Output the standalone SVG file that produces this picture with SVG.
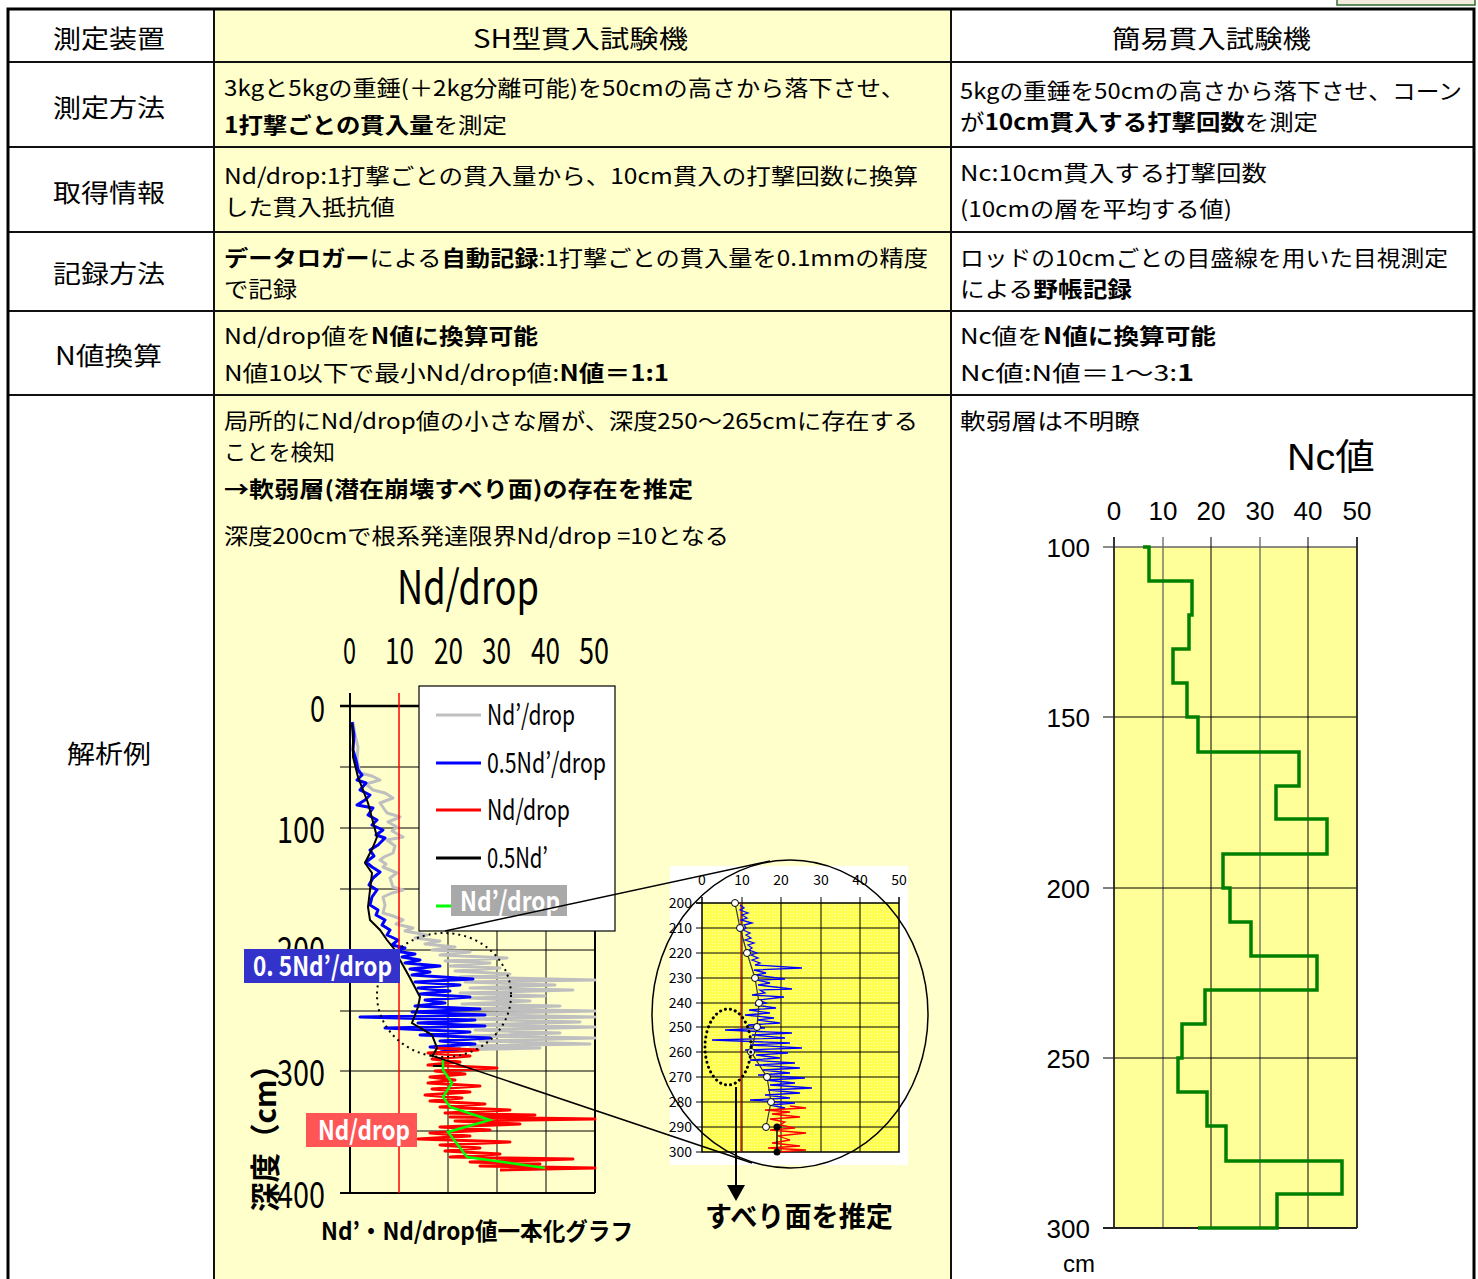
<svg xmlns="http://www.w3.org/2000/svg" width="1478" height="1279" viewBox="0 0 1478 1279">
<defs>
<style>
.t{font-family:"Noto Sans CJK JP","Noto Sans",sans-serif;fill:#000}
.n{font-family:"Liberation Sans","Noto Sans CJK JP",sans-serif;fill:#000}
.b{font-weight:bold}
.g{stroke:#000;stroke-width:1;fill:none}
.g2{stroke:#555;stroke-width:1.2;fill:none}
.tl{stroke:#111;stroke-width:2;fill:none}
</style>
<pattern id="dots" width="3" height="3" patternUnits="userSpaceOnUse">
<rect width="3" height="3" fill="#FFFF50"/>
<rect x="1" y="1" width="1" height="1" fill="#FFFFB8"/>
</pattern>
</defs>

<g id="table">
<rect x="8" y="9" width="206" height="1275" fill="#FFFFFF"/>
<rect x="214" y="9" width="737" height="1275" fill="#FFFFCC"/>
<rect x="951" y="9" width="523" height="1275" fill="#FFFFFF"/>
<rect x="1337" y="-3" width="138" height="8" fill="#F3EBDD" stroke="#2E6B2E" stroke-width="1.5"/>
<path class="tl" d="M8,62H1474M8,147H1474M8,232H1474M8,311H1474M8,395H1474M214,9V1284M951,9V1284"/>
<path d="M8,1284V9H1474V1284" fill="none" stroke="#000" stroke-width="3"/>
</g>

<g id="col-labels">
<text class="t" x="53" y="48" font-size="25" textLength="112" lengthAdjust="spacingAndGlyphs">測定装置</text>
<text class="t" x="473" y="48" font-size="25" textLength="215" lengthAdjust="spacingAndGlyphs">SH型貫入試験機</text>
<text class="t" x="1112" y="48" font-size="25" textLength="199" lengthAdjust="spacingAndGlyphs">簡易貫入試験機</text>
<text class="t" x="53" y="117" font-size="25" textLength="112" lengthAdjust="spacingAndGlyphs">測定方法</text>
<text class="t" x="53" y="202" font-size="25" textLength="112" lengthAdjust="spacingAndGlyphs">取得情報</text>
<text class="t" x="53" y="283" font-size="25" textLength="112" lengthAdjust="spacingAndGlyphs">記録方法</text>
<text class="t" x="55" y="365" font-size="25" textLength="107" lengthAdjust="spacingAndGlyphs">N値換算</text>
<text class="t" x="67" y="763" font-size="25" textLength="84" lengthAdjust="spacingAndGlyphs">解析例</text>
</g>

<g id="sh-text">
<text class="t" x="224" y="96" font-size="22" textLength="681" lengthAdjust="spacingAndGlyphs">3kgと5kgの重錘(＋2kg分離可能)を50cmの高さから落下させ、</text>
<text class="t" x="224" y="133" font-size="22" textLength="283" lengthAdjust="spacingAndGlyphs"><tspan class="b">1打撃ごとの貫入量</tspan>を測定</text>
<text class="t" x="224" y="184" font-size="22" textLength="694" lengthAdjust="spacingAndGlyphs">Nd/drop:1打撃ごとの貫入量から、10cm貫入の打撃回数に換算</text>
<text class="t" x="224" y="215" font-size="22" textLength="171" lengthAdjust="spacingAndGlyphs">した貫入抵抗値</text>
<text class="t" x="224" y="266" font-size="22" textLength="704" lengthAdjust="spacingAndGlyphs"><tspan class="b">データロガー</tspan>による<tspan class="b">自動記録</tspan>:1打撃ごとの貫入量を0.1mmの精度</text>
<text class="t" x="224" y="297" font-size="22" textLength="73" lengthAdjust="spacingAndGlyphs">で記録</text>
<text class="t" x="224" y="344" font-size="22" textLength="314" lengthAdjust="spacingAndGlyphs">Nd/drop値を<tspan class="b">N値に換算可能</tspan></text>
<text class="t" x="224" y="381" font-size="22" textLength="445" lengthAdjust="spacingAndGlyphs">N値10以下で最小Nd/drop値:<tspan class="b">N値＝1:1</tspan></text>
<text class="t" x="224" y="429" font-size="22" textLength="694" lengthAdjust="spacingAndGlyphs">局所的にNd/drop値の小さな層が、深度250～265cmに存在する</text>
<text class="t" x="224" y="460" font-size="22" textLength="111" lengthAdjust="spacingAndGlyphs">ことを検知</text>
<text class="t b" x="224" y="497" font-size="22" textLength="469" lengthAdjust="spacingAndGlyphs">→軟弱層(潜在崩壊すべり面)の存在を推定</text>
<text class="t" x="224" y="544" font-size="22" textLength="505" lengthAdjust="spacingAndGlyphs">深度200cmで根系発達限界Nd/drop =10となる</text>
</g>

<g id="simple-text">
<text class="t" x="960" y="99" font-size="22" textLength="502" lengthAdjust="spacingAndGlyphs">5kgの重錘を50cmの高さから落下させ、コーン</text>
<text class="t" x="960" y="130" font-size="22" textLength="358" lengthAdjust="spacingAndGlyphs">が<tspan class="b">10cm貫入する打撃回数</tspan>を測定</text>
<text class="t" x="960" y="181" font-size="22" textLength="307" lengthAdjust="spacingAndGlyphs">Nc:10cm貫入する打撃回数</text>
<text class="t" x="960" y="217" font-size="22" textLength="272" lengthAdjust="spacingAndGlyphs">(10cmの層を平均する値)</text>
<text class="t" x="960" y="266" font-size="22" textLength="488" lengthAdjust="spacingAndGlyphs">ロッドの10cmごとの目盛線を用いた目視測定</text>
<text class="t" x="960" y="297" font-size="22" textLength="172" lengthAdjust="spacingAndGlyphs">による<tspan class="b">野帳記録</tspan></text>
<text class="t" x="960" y="344" font-size="22" textLength="256" lengthAdjust="spacingAndGlyphs">Nc値を<tspan class="b">N値に換算可能</tspan></text>
<text class="t" x="960" y="381" font-size="22" textLength="234" lengthAdjust="spacingAndGlyphs">Nc値:N値＝1～3:<tspan class="b">1</tspan></text>
<text class="t" x="960" y="429" font-size="22" textLength="180" lengthAdjust="spacingAndGlyphs">軟弱層は不明瞭</text>
</g>

<g id="nd-chart">
<text class="t" x="397" y="604" font-size="46" textLength="142" lengthAdjust="spacingAndGlyphs">Nd/drop</text>
<g class="t" font-size="36">
<text x="343" y="664" textLength="13" lengthAdjust="spacingAndGlyphs">0</text>
<text x="385" y="664" textLength="29" lengthAdjust="spacingAndGlyphs">10</text>
<text x="434" y="664" textLength="29" lengthAdjust="spacingAndGlyphs">20</text>
<text x="482" y="664" textLength="29" lengthAdjust="spacingAndGlyphs">30</text>
<text x="531" y="664" textLength="29" lengthAdjust="spacingAndGlyphs">40</text>
<text x="579" y="664" textLength="30" lengthAdjust="spacingAndGlyphs">50</text>
<text x="310" y="722" textLength="15" lengthAdjust="spacingAndGlyphs">0</text>
<text x="277" y="843" textLength="48" lengthAdjust="spacingAndGlyphs">100</text>
<text x="277" y="963" textLength="48" lengthAdjust="spacingAndGlyphs">200</text>
<text x="277" y="1086" textLength="48" lengthAdjust="spacingAndGlyphs">300</text>
<text x="277" y="1208" textLength="48" lengthAdjust="spacingAndGlyphs">400</text>
</g>
<text class="t b" font-size="30" transform="translate(276,1212) rotate(-90)" textLength="162" lengthAdjust="spacingAndGlyphs">深度（cm）</text>
<path class="g" d="M350,767H595M350,828H595M350,889H595M350,950H595M350,1011H595M350,1071H595M350,1131H595M448,693V1193M497,693V1193M546,693V1193M340,767H350M340,828H350M340,889H350M340,950H350M340,1011H350M340,1071H350M340,1131H350"/>
<path d="M350,693V1193M340,1193H595M595,706V1193" stroke="#000" stroke-width="2" fill="none"/>
<path d="M340,706H600" stroke="#000" stroke-width="2.5" fill="none"/>
<polyline fill="none" stroke="#BFBFBF" stroke-width="3" stroke-linejoin="round" points="353,722 355,735 358,747 357,760 360,773 372,776 380,780 366,784 373,790 385,793 393,798 380,803 387,813 394,815 400,817 388,822 397,827 392,831 403,837 387,840 395,846 393,853 384,857 380,860 386,864 383,867 397,873 390,878 393,887 403,890 392,893 383,897 385,905 383,913 393,916 403,920 396,924 413,928 405,931 427,935 415,938 440,941 425,944 455,947 432,950 470,952 440,955 507,958 445,961 490,963 450,966 500,968 455,971 510,974 460,977 595,980 465,982 555,985 470,988 573,990 460,993 545,996 470,998 530,1001 462,1004 560,1006 470,1009 595,1011 455,1014 595,1017 470,1019 580,1022 465,1025 595,1027 475,1030 560,1033 470,1036 595,1038 480,1041 590,1044 470,1046 540,1048 445,1050"/>
<polyline fill="none" stroke="#0000FF" stroke-width="3" stroke-linejoin="round" points="352,722 354,735 353,750 356,760 358,770 362,775 357,780 366,783 360,790 370,795 365,800 357,805 373,808 368,815 377,820 372,825 383,830 376,835 385,838 378,845 370,850 374,856 366,862 372,867 380,872 373,878 369,885 377,890 372,897 370,905 378,910 376,915 385,920 382,925 390,930 387,935 398,940 392,945 405,948 395,951 415,954 402,957 420,960 405,963 440,966 410,969 430,972 412,975 473,979 415,982 460,985 418,988 450,991 420,994 470,997 425,1000 445,1003 415,1006 480,1009 412,1012 485,1015 360,1017 475,1020 418,1023 485,1026 385,1028 470,1032 420,1035 490,1038 440,1041 475,1044 430,1047 460,1049 440,1052"/>
<polyline fill="none" stroke="#FF0000" stroke-width="3" stroke-linejoin="round" points="435,1048 478,1050 428,1053 470,1056 432,1059 460,1062 428,1065 497,1068 435,1071 465,1074 430,1077 455,1080 428,1083 480,1086 432,1089 470,1092 425,1095 462,1098 430,1101 485,1104 440,1107 510,1110 445,1113 535,1115 450,1117 595,1119 455,1121 520,1124 440,1127 490,1130 430,1133 470,1136 418,1139 510,1142 440,1145 480,1148 445,1151 500,1154 450,1157 573,1159 470,1162 540,1164 480,1166 595,1168 500,1170"/>
<polyline fill="none" stroke="#000" stroke-width="2" points="352,723 353,740 353,757 358,777 368,803 377,837 373,847 365,863 372,873 370,890 368,907 370,920 380,930 387,940 395,950 400,960 410,978 420,997 418,1007 412,1023 432,1035 437,1048 432,1057"/>
<path d="M433,1066H443" stroke="#000" stroke-width="2"/>
<polyline fill="none" stroke="#00FF00" stroke-width="2.5" points="443,1060 443,1070 452,1083 443,1097 450,1107 490,1120 448,1132 467,1157 545,1168"/>
<path d="M399,693V1193" stroke="#FF0000" stroke-width="1.5"/>
<ellipse cx="444" cy="995" rx="67" ry="62" fill="none" stroke="#000" stroke-width="2" stroke-dasharray="2 4"/>
</g>

<g id="legend">
<rect x="419" y="686" width="196" height="245" fill="#FFFFFF" stroke="#000" stroke-width="1.2"/>
<path d="M436,715H481" stroke="#BFBFBF" stroke-width="3"/>
<path d="M436,763H481" stroke="#0000FF" stroke-width="3"/>
<path d="M436,810H481" stroke="#FF0000" stroke-width="3"/>
<path d="M436,858H481" stroke="#000" stroke-width="3"/>
<path d="M436,906H452" stroke="#00FF00" stroke-width="3"/>
<g class="t" font-size="28">
<text x="487" y="725" textLength="88" lengthAdjust="spacingAndGlyphs">Nd’/drop</text>
<text x="487" y="773" textLength="119" lengthAdjust="spacingAndGlyphs">0.5Nd’/drop</text>
<text x="487" y="820" textLength="83" lengthAdjust="spacingAndGlyphs">Nd/drop</text>
<text x="487" y="868" textLength="61" lengthAdjust="spacingAndGlyphs">0.5Nd’</text>
</g>
<rect x="451" y="885" width="116" height="31" fill="#A9A9A9"/>
<text class="t b" x="460" y="911" font-size="27" fill="#FFFFFF" style="fill:#FFFFFF" textLength="100" lengthAdjust="spacingAndGlyphs">Nd’/drop</text>
</g>

<g id="series-labels">
<rect x="244" y="949" width="156" height="34" fill="#3333CC"/>
<text class="t b" x="253" y="976" font-size="27" style="fill:#FFFFFF" textLength="139" lengthAdjust="spacingAndGlyphs">0. 5Nd’/drop</text>
<rect x="306" y="1113" width="111" height="34" fill="#FF5555"/>
<text class="t b" x="318" y="1140" font-size="27" style="fill:#FFFFFF" textLength="92" lengthAdjust="spacingAndGlyphs">Nd/drop</text>
<text class="t b" x="321" y="1240" font-size="24" textLength="312" lengthAdjust="spacingAndGlyphs">Nd’・Nd/drop値一本化グラフ</text>
</g>

<g id="inset">
<rect x="670" y="866" width="238" height="299" fill="#FFFFFF"/>
<rect x="702" y="903" width="197" height="249" fill="url(#dots)"/>
<path class="g" stroke-width="1.2" d="M702,928H899M702,953H899M702,978H899M702,1003H899M702,1027H899M702,1052H899M702,1077H899M702,1102H899M702,1127H899M742,897V1152M781,897V1152M821,897V1152M860,897V1152M696,903H702M696,928H702M696,953H702M696,978H702M696,1003H702M696,1027H702M696,1052H702M696,1077H702M696,1102H702M696,1127H702M696,1152H702"/>
<path d="M702,897V1152H899V897M696,903H899" stroke="#000" stroke-width="1.5" fill="none"/>
<path d="M741,903V1152" stroke="#C00000" stroke-width="1.2"/>
<polyline fill="none" stroke="#0000FF" stroke-width="1.3" points="740,905 744,908 740,910 748,913 742,915 747,918 741,920 752,923 744,925 746,928 743,930 750,933 746,935 751,938 745,940 754,943 748,945 752,948 749,950 757,953 751,955 758,958 752,960 760,963 755,965 802,968 754,970 766,973 756,975 785,979 757,980 770,983 758,985 792,989 760,990 765,993 752,995 784,997 758,1000 766,1003 755,1005 776,1008 749,1010 770,1013 745,1015 774,1018 757,1020 780,1023 748,1025 765,1028 725,1030 792,1033 752,1035 785,1038 712,1040 790,1043 750,1045 802,1048 745,1050 788,1053 756,1055 780,1058 750,1060 795,1063 755,1065 800,1068 762,1070 790,1073 758,1075 805,1078 765,1080 795,1083 770,1085 812,1088 768,1090 800,1093 765,1095 790,1098 750,1100 795,1103 770,1105 785,1108 775,1110"/>
<polyline fill="none" stroke="#FF0000" stroke-width="1.3" points="790,1106 806,1108 765,1110 790,1112 772,1114 800,1117 770,1119 785,1122 780,1125 795,1128 770,1130 806,1133 778,1136 790,1140 772,1143 800,1146 768,1148 806,1150 778,1152"/>
<polyline fill="none" stroke="#333" stroke-width="1.2" points="735,903 740,928 747,953 755,978 759,1003 757,1027 751,1052 767,1077 771,1102 766,1127"/>
<path d="M777,1127V1152" stroke="#000" stroke-width="1.5"/>
<g fill="#FFFFFF" stroke="#000" stroke-width="1">
<circle cx="735" cy="903" r="3.5"/><circle cx="740" cy="928" r="3.5"/><circle cx="747" cy="953" r="3.5"/><circle cx="755" cy="978" r="3.5"/><circle cx="759" cy="1003" r="3.5"/><circle cx="757" cy="1027" r="3.5"/><circle cx="751" cy="1052" r="3.5"/><circle cx="767" cy="1077" r="3.5"/><circle cx="771" cy="1102" r="3.5"/><circle cx="766" cy="1127" r="3.5"/>
</g>
<circle cx="777" cy="1127" r="3.5" fill="#000"/>
<circle cx="777" cy="1152" r="3.5" fill="#000"/>
<ellipse cx="728" cy="1047" rx="23" ry="38" fill="none" stroke="#000" stroke-width="3" stroke-dasharray="0.1 5" stroke-linecap="round"/>
<g class="t" font-size="14" text-anchor="middle">
<text x="702" y="885">0</text><text x="742" y="885">10</text><text x="781" y="885">20</text><text x="821" y="885">30</text><text x="860" y="885">40</text><text x="899" y="885">50</text>
</g>
<g class="t" font-size="14" text-anchor="end">
<text x="692" y="908">200</text><text x="692" y="933">210</text><text x="692" y="958">220</text><text x="692" y="983">230</text><text x="692" y="1008">240</text><text x="692" y="1032">250</text><text x="692" y="1057">260</text><text x="692" y="1082">270</text><text x="692" y="1107">280</text><text x="692" y="1132">290</text><text x="692" y="1157">300</text>
</g>
<ellipse cx="790" cy="1014" rx="138" ry="154" fill="none" stroke="#000" stroke-width="1.5"/>
</g>

<g id="connectors">
<path d="M445,931L770,861" stroke="#000" stroke-width="1.5"/>
<path d="M430,1055L752,1163" stroke="#000" stroke-width="1.5"/>
<path d="M736,1087V1188" stroke="#000" stroke-width="2"/>
<polygon points="727,1185 745,1185 736,1201" fill="#000"/>
</g>

<g id="slip-label">
<text class="t b" x="705" y="1227" font-size="28" textLength="188" lengthAdjust="spacingAndGlyphs">すべり面を推定</text>
</g>

<g id="nc-chart">
<text class="n" x="1287" y="470" font-size="36" textLength="88" lengthAdjust="spacingAndGlyphs">Nc<tspan class="t">値</tspan></text>
<g class="n" font-size="26" text-anchor="middle">
<text x="1114" y="520">0</text><text x="1163" y="520">10</text><text x="1211" y="520">20</text><text x="1260" y="520">30</text><text x="1308" y="520">40</text><text x="1357" y="520">50</text>
</g>
<g class="n" font-size="26" text-anchor="end">
<text x="1090" y="557">100</text><text x="1090" y="727">150</text><text x="1090" y="898">200</text><text x="1090" y="1068">250</text><text x="1090" y="1238">300</text>
</g>
<text class="n" x="1063" y="1272" font-size="24">cm</text>
<rect x="1114" y="547" width="243" height="681" fill="#FFFF99"/>
<path d="M1163,537V1228M1260,537V1228M1103,547H1357" stroke="#666" stroke-width="1.3" fill="none"/>
<path d="M1211,537V1228M1308,537V1228M1114,717H1357M1114,888H1357M1114,1058H1357M1103,717H1114M1103,888H1114M1103,1058H1114" stroke="#000" stroke-width="1" fill="none"/>
<path d="M1114,537V1228M1357,537V1228M1103,1228H1357" stroke="#222" stroke-width="1.8" fill="none"/>
<path d="M1143,547H1149V581H1192V615H1189V649H1173V683H1187V717H1198V752H1299V786H1276V819H1327V854H1223V888H1230V922H1251V956H1317V990H1205V1024H1182V1058H1178V1092H1207V1126H1226V1161H1342V1194H1277V1228H1198" fill="none" stroke="#008000" stroke-width="3.5"/>
</g>
</svg>
